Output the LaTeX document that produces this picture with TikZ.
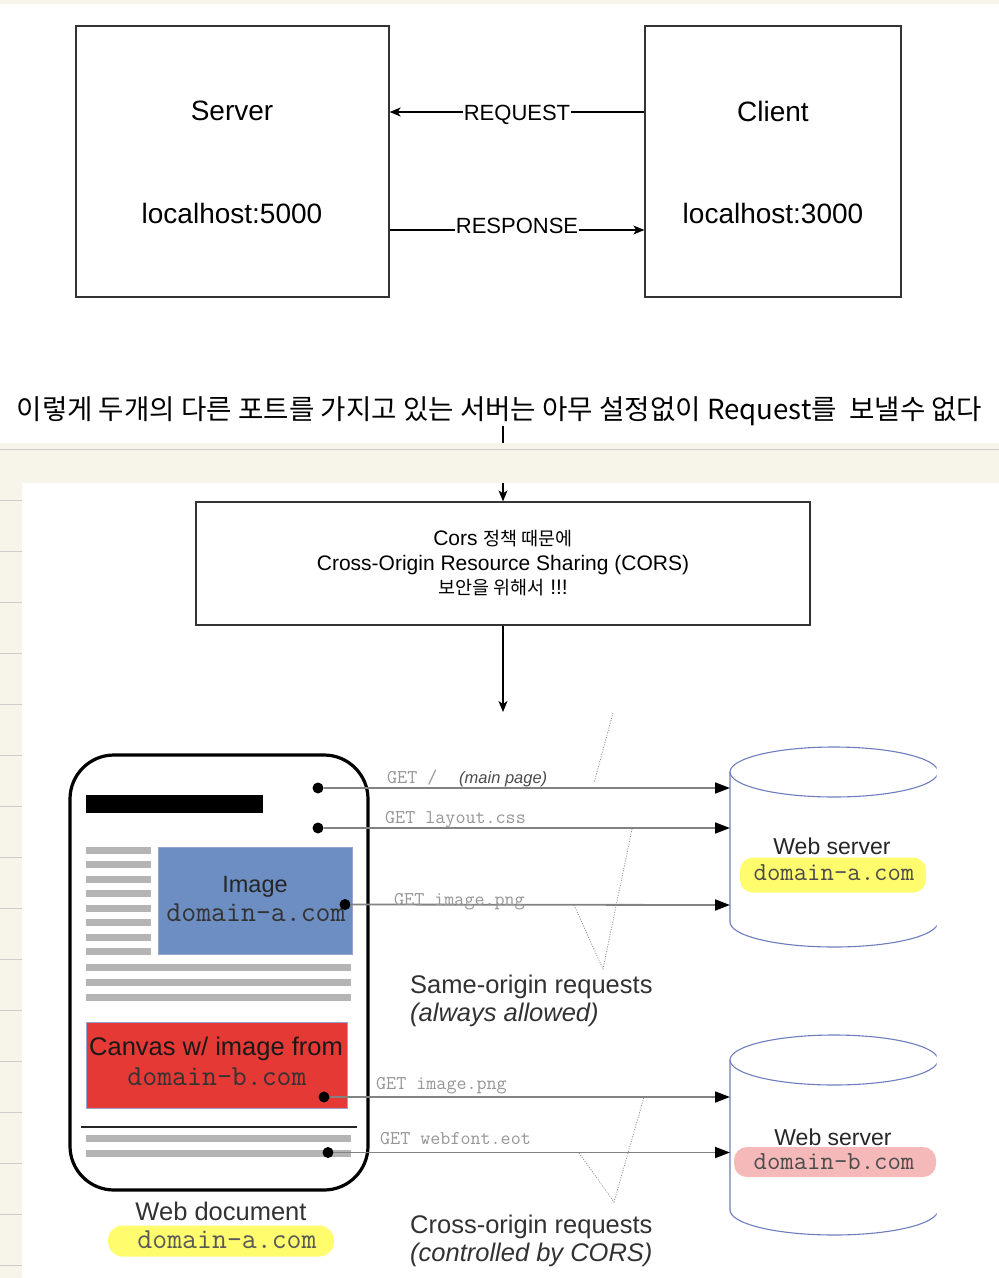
\documentclass[tikz,border=0pt]{standalone}
\usepackage{fontspec}
\setmainfont{Liberation Sans}
\newfontfamily\kr{Noto Sans CJK KR}
\usetikzlibrary{arrows.meta}
\definecolor{beige}{RGB}{247,245,233}
\definecolor{ruleline}{RGB}{205,205,205}
\definecolor{bar}{RGB}{180,180,180}
\definecolor{imgblue}{RGB}{108,142,194}
\definecolor{canvasred}{RGB}{229,57,53}
\definecolor{hlyellow}{RGB}{255,252,110}
\definecolor{hlpink}{RGB}{245,185,185}
\definecolor{cylblue}{RGB}{110,125,190}
\definecolor{gettext}{RGB}{150,150,150}
\definecolor{getline}{RGB}{130,130,130}
\definecolor{txtdark}{RGB}{50,50,50}
\begin{document}
\begin{tikzpicture}[x=1pt,y=-1pt,
  bigbox/.style={draw=black!80, line width=1.3pt, inner sep=0pt},
  arr/.style={line width=1.2pt, -{Stealth[length=11pt,width=9pt,inset=3pt]}},
  flowlbl/.style={fill=white, inner sep=1pt, text depth=0pt, font=\fontsize{22}{24}\selectfont},
  hosttxt/.style={font=\fontsize{28}{30}\selectfont},
  dot/.style={circle, fill=black, inner sep=0pt, minimum size=11pt},
  getarr/.style={draw=getline, line width=1.8pt, -{Triangle[length=15pt,width=11pt,color=black]}},
  getlbl/.style={anchor=base west, inner sep=0pt, text=gettext, font=\ttfamily\fontsize{19.5}{20}\selectfont},
  callout/.style={draw=black!45, line width=0.8pt, dash pattern=on 1pt off 1.5pt},
  sanslbl/.style={text=txtdark, font=\fontsize{25.5}{28}\selectfont, inner sep=0pt},
  monolbl/.style={text=black!80, font=\ttfamily\fontsize{29}{30}\selectfont, inner sep=0pt},
  cyl/.style={draw=cylblue, line width=1.1pt}
]
\useasboundingbox (0,0) rectangle (999,1278);
\fill[white] (0,0) rectangle (999,1278);
\fill[beige] (0,0) rectangle (999,4);

% ---------- top diagram ----------
\node[bigbox, minimum width=313pt, minimum height=271pt] (server) at (232.5,161.5) {};
\node[bigbox, minimum width=256pt, minimum height=271pt] (client) at (773,161.5) {};
\node[hosttxt] (srvname) at (232,111) {Server};
\node[hosttxt] (srvhost) at (232,213) {localhost:5000};
\node[hosttxt] (cliname) at (773,111) {Client};
\node[hosttxt] (clihost) at (773,213) {localhost:3000};
\draw[arr] ([yshift=49.5pt]client.west) -- node[flowlbl, yshift=-1pt]{REQUEST} ([yshift=49.5pt]server.east);
\draw[arr] ([yshift=-68.5pt]server.east) -- node[flowlbl, yshift=4pt]{RESPONSE} ([yshift=-68.5pt]client.west);

\node[font=\kr\fontsize{27.6}{30}\selectfont, inner sep=0pt] (kor) at (499.5,411)
  {이렇게 두개의 다른 포트를 가지고 있는 서버는 아무 설정없이 Request를\ \ 보낼수 없다};

\node[bigbox, minimum width=614pt, minimum height=123pt, align=center,
      font=\fontsize{21}{24.5}\selectfont] (cors) at (503,563.5)
  {Cors {\kr\fontsize{18.5}{20}\selectfont 정책 때문에}\\
   Cross-Origin Resource Sharing (CORS)\\
   {\kr\fontsize{18.5}{20}\selectfont 보안을 위해서} !!!};
\coordinate (below) at (503,712);
\draw[arr] (kor.south -| cors.north) -- (cors.north);
\draw[arr] (cors.south) -- (below);

% ---------- notebook background ----------
\fill[beige] (0,443) rectangle (999,483);
\draw[ruleline, line width=1.5pt] (0,449.5) -- (999,449.5);
\fill[beige] (0,483) rectangle (22,1278);
\foreach \k in {0,...,15} {
  \draw[ruleline, line width=1pt] (0,500+51*\k) -- (22,500+51*\k);
}

% ---------- web document ----------
\node[draw=black, line width=3.2pt, rounded corners=44pt, minimum width=298pt,
      minimum height=435pt, inner sep=0pt] (doc) at (219,972.5) {};
\fill[black] (86,795) rectangle (263,813);
\foreach \y in {850,864.5,879,893.5,908,922.5,937,951} {
  \fill[bar] (86,\y-3.5) rectangle (151,\y+3.5);
}
\foreach \y in {967,982,997,1138,1153} {
  \fill[bar] (86,\y-3.5) rectangle (351,\y+3.5);
}
\node[fill=imgblue, draw=cylblue!70, line width=0.5pt, minimum width=194pt,
      minimum height=107pt, inner sep=0pt] (imgbox) at (255,900.5) {};
\node[sanslbl, text=black!85, font=\fontsize{23.5}{26}\selectfont] (imgname) at (255,887) {Image};
\node[monolbl] (imgdom) at (256,913) {domain-a.com};
\node[fill=canvasred, draw=cylblue!70, line width=0.5pt, minimum width=261pt,
      minimum height=86pt, inner sep=0pt] (canvas) at (216.5,1065) {};
\node[sanslbl, text=black!90] (canname) at (216,1049) {Canvas w/ image from};
\node[monolbl] (candom) at (217,1077) {domain-b.com};
\draw[black!85, line width=1.2pt] (81,1127) -- (357,1127);

\node[sanslbl] (docname) at (221,1211) {Web document};
\node[fill=hlyellow, rounded corners=15pt, minimum width=226pt, minimum height=31pt, inner sep=0pt] (dochl) at (221,1241) {};
\node[monolbl, text=black!65] (docdom) at (227,1240) {domain-a.com};

% ---------- web servers ----------
\begin{scope}
\clip (700,700) rectangle (936.5,1278);
\draw[cyl] (834,772) ellipse [x radius=104, y radius=25];
\draw[cyl] (730,772) -- (730,922) arc[start angle=180, end angle=0, x radius=104, y radius=25] -- (938,772);
\draw[cyl] (834,1060) ellipse [x radius=104, y radius=25];
\draw[cyl] (730,1060) -- (730,1210) arc[start angle=180, end angle=0, x radius=104, y radius=25] -- (938,1060);
\end{scope}
\node[fill=hlyellow, rounded corners=13pt, minimum width=186pt, minimum height=35pt, inner sep=0pt] (s1hl) at (833,875) {};
\node[sanslbl, font=\fontsize{23}{25}\selectfont, text=black!85] (s1name) at (832,846) {Web server};
\node[monolbl, text=black!70, font=\ttfamily\fontsize{26}{28}\selectfont] (s1dom) at (834,873) {domain-a.com};
\node[fill=hlpink, rounded corners=13pt, minimum width=202pt, minimum height=30pt, inner sep=0pt] (s2hl) at (835,1162) {};
\node[sanslbl, font=\fontsize{23}{25}\selectfont, text=black!85] (s2name) at (833,1137) {Web server};
\node[monolbl, text=black!70, font=\ttfamily\fontsize{26}{28}\selectfont] (s2dom) at (834,1162) {domain-b.com};

% ---------- requests ----------
\coordinate (t1) at (730,788);
\coordinate (t2) at (730,828);
\coordinate (t3) at (730,905);
\coordinate (t4) at (730,1097);
\coordinate (t5) at (730,1152.5);
\node[dot] (d1) at (318,788) {};
\node[dot] (d2) at (318,828) {};
\node[dot] (d3) at (345,904.5) {};
\node[dot] (d4) at (324,1097) {};
\node[dot] (d5) at (328,1152.5) {};
\draw[getarr] (d1.east) -- (t1);
\draw[getarr] (d2.east) -- (t2);
\draw[getarr] (d3.east) -- (t3);
\draw[getarr] (d4.east) -- (t4);
\draw[getarr] (d5.east) -- (t5);
\node[getlbl] (g1) at (387,783) {GET /};
\node[anchor=base west, inner sep=0pt, text=black!70, font=\itshape\fontsize{16.5}{18}\selectfont] (g1b) at (459,783) {(main page)};
\node[getlbl] (g2) at (385,823) {GET layout.css};
\node[getlbl] (g3) at (394,905) {GET image.png};
\node[getlbl] (g4) at (376,1089) {GET image.png};
\node[getlbl] (g5) at (380,1144) {GET webfont.eot};

% callout strokes
\draw[callout] (613,713) -- (594,783);
\draw[callout] (574,905) -- (603,969) -- (632,829);
\draw[callout] (579,1153) -- (614,1202) -- (644,1097);

\node[sanslbl, anchor=west] (same1) at (410,987) {Same-origin requests};
\node[sanslbl, anchor=west, font=\itshape\fontsize{25.5}{28}\selectfont] (same2) at (410,1015) {(always allowed)};
\node[sanslbl, anchor=west] (cross1) at (410,1227) {Cross-origin requests};
\node[sanslbl, anchor=west, font=\itshape\fontsize{25.5}{28}\selectfont] (cross2) at (410,1255) {(controlled by CORS)};
\end{tikzpicture}
\end{document}
